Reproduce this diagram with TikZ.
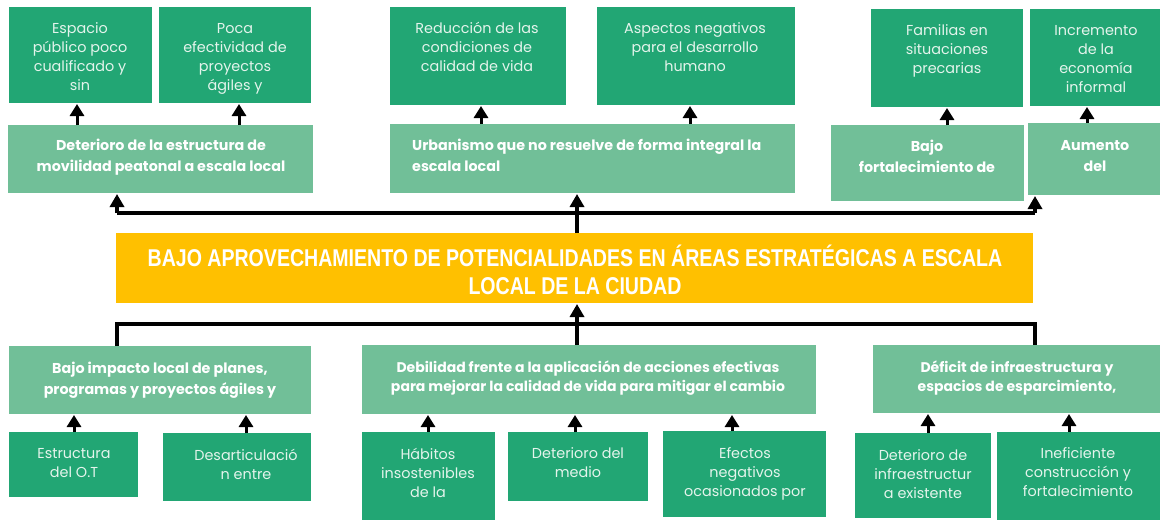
\documentclass[tikz,border=0pt]{standalone}
\usepackage{fontspec}
\setmainfont{Poppins}
\newfontfamily\titlefont[FakeStretch=0.805]{Liberation Sans}
\usetikzlibrary{arrows.meta,calc}
\definecolor{dkgreen}{RGB}{34,166,116}
\definecolor{ltgreen}{RGB}{113,191,152}
\definecolor{goldbar}{RGB}{255,192,0}
\definecolor{paletext}{RGB}{228,244,236}
\newcommand\boxnode[6]{\node[#2,anchor=north west,inner sep=0pt,outer sep=0pt,minimum width={(#5)-(#3)},minimum height={(#6)-(#4)}] (#1) at (#3,#4) {};}
\tikzset{
  leafbox/.style={fill=dkgreen},
  midbox/.style={fill=ltgreen},
  rootbox/.style={fill=goldbar},
  leaftext/.style={text=paletext,align=center,inner sep=0pt,anchor=base,font=\fontsize{14.4}{19}\selectfont},
  midtext/.style={text=white,align=center,inner sep=0pt,anchor=base,font=\fontsize{14.3}{21}\selectfont\bfseries},
  midtextb/.style={text=white,align=center,inner sep=0pt,anchor=base,font=\fontsize{14}{19}\selectfont\bfseries},
  roottext/.style={text=white,align=center,inner sep=0pt,anchor=base,font=\fontsize{24.3}{28}\selectfont\titlefont\bfseries},
  stub/.style={line width=3pt,-{Triangle[width=14pt,length=12pt]},shorten >=1pt},
  mainline/.style={line width=3.5pt},
  mainarrow/.style={line width=3.5pt,-{Triangle[width=14pt,length=13pt]},shorten >=1pt},
}
\begin{document}
\begin{tikzpicture}[x=1pt,y=-1pt]
\useasboundingbox[fill=white] (0,0) rectangle (1160,520);
% top leaves
\boxnode{L1}{leafbox}{9}{7}{152}{103}
\boxnode{L2}{leafbox}{159}{7}{311}{103}
\boxnode{L3}{leafbox}{390}{7}{566}{105}
\boxnode{L4}{leafbox}{597}{7}{795}{105}
\boxnode{L5}{leafbox}{871}{9}{1023}{107}
\boxnode{L6}{leafbox}{1030}{9}{1160}{106}
% top mid
\boxnode{M1}{midbox}{8}{125}{313}{193}
\boxnode{M2}{midbox}{390}{124}{795}{193}
\boxnode{M3}{midbox}{831}{125}{1024}{201}
\boxnode{M4}{midbox}{1028}{123}{1160}{195}
% root
\boxnode{Y}{rootbox}{116}{233}{1033}{303}
% bottom mid
\boxnode{B1}{midbox}{9}{346}{311}{414}
\boxnode{B2}{midbox}{362}{345}{816}{414}
\boxnode{B3}{midbox}{873}{345}{1160}{413}
% bottom leaves
\boxnode{C1}{leafbox}{9}{432}{138}{497}
\boxnode{C2}{leafbox}{163}{433}{311}{501}
\boxnode{C3}{leafbox}{362}{432}{495}{520}
\boxnode{C4}{leafbox}{508}{432}{648}{501}
\boxnode{C5}{leafbox}{663}{431}{826}{517}
\boxnode{C6}{leafbox}{855}{433}{991}{518}
\boxnode{C7}{leafbox}{997}{432}{1160}{520}
% texts (anchor = baseline of the last line)
\node[leaftext] (L1t) at (80,90) {Espacio\\público poco\\cualificado y\\sin};
\node[leaftext] (L2t) at (235,90) {Poca\\efectividad de\\proyectos\\ágiles y};
\node[leaftext] (L3t) at (477,71) {Reducción de las\\condiciones de\\calidad de vida};
\node[leaftext] (L4t) at (695,71) {Aspectos negativos\\para el desarrollo\\humano};
\node[leaftext] (L5t) at (947,73) {Familias en\\situaciones\\precarias};
\node[leaftext] (L6t) at (1096,92) {Incremento\\de la\\economía\\informal};
\node[midtext] (M1t) at (161,171) {Deterioro de la estructura de\\movilidad peatonal a escala local};
\node[midtext,align=left,anchor=base west] (M2t) at (412,171) {Urbanismo que no resuelve de forma integral la\\escala local};
\node[midtext] (M3t) at (927,172) {Bajo\\fortalecimiento de};
\node[midtext] (M4t) at (1095,171) {Aumento\\del};
\node[roottext] (Yt) at (575,294) {BAJO APROVECHAMIENTO DE POTENCIALIDADES EN ÁREAS ESTRATÉGICAS A ESCALA\\LOCAL DE LA CIUDAD};
\node[midtext] (B1t) at (160,394) {Bajo impacto local de planes,\\programas y proyectos ágiles y};
\node[midtextb] (B2t) at (588,391) {Debilidad frente a la aplicación de acciones efectivas\\para mejorar la calidad de vida para mitigar el cambio};
\node[midtextb] (B3t) at (1017,391) {Déficit de infraestructura y\\espacios de esparcimiento,};
\node[leaftext] (C1t) at (74,477) {Estructura\\del O.T};
\node[leaftext] (C2t) at (246,479) {Desarticulació\\n entre};
\node[leaftext] (C3t) at (428,497) {Hábitos\\insostenibles\\de la};
\node[leaftext] (C4t) at (578,477) {Deterioro del\\medio};
\node[leaftext] (C5t) at (745,496) {Efectos\\negativos\\ocasionados por};
\node[leaftext] (C6t) at (923,498) {Deterioro de\\infraestructur\\a existente};
\node[leaftext] (C7t) at (1078,496) {Ineficiente\\construcción y\\fortalecimiento};
% stubs top
\draw[stub] (M1.north -| 77,0) -- (L1.south -| 77,0);
\draw[stub] (M1.north -| 239,0) -- (L2.south -| 239,0);
\draw[stub] (M2.north -| 481,0) -- (L3.south -| 481,0);
\draw[stub] (M2.north -| 690,0) -- (L4.south -| 690,0);
\draw[stub] (M3.north -| 947,0) -- (L5.south -| 947,0);
\draw[stub] (M4.north -| 1087,0) -- (L6.south -| 1087,0);
% stubs bottom
\draw[stub] (C1.north -| 74,0) -- (B1.south -| 74,0);
\draw[stub] (C2.north -| 246,0) -- (B1.south -| 246,0);
\draw[stub] (C3.north -| 428,0) -- (B2.south -| 428,0);
\draw[stub] (C4.north -| 575,0) -- (B2.south -| 575,0);
\draw[stub] (C5.north -| 732,0) -- (B2.south -| 732,0);
\draw[stub] (C6.north -| 928,0) -- (B3.south -| 928,0);
\draw[stub] (C7.north -| 1069,0) -- (B3.south -| 1069,0);
% top trunk
\coordinate (jtl) at (117,213);
\coordinate (jt) at (577,213);
\coordinate (jtr) at (1035,213);
\draw[mainline] (jtl) -- (jtr);
\draw[mainline] (jt |- Y.north) -- (jt);
\draw[mainarrow] (jtl) -- (jtl |- M1.south);
\draw[mainarrow] (jt) -- (jt |- M2.south);
\draw[mainarrow] (jtr) -- (jtr |- M4.south);
% bottom trunk
\coordinate (jbl) at (117,324);
\coordinate (jb) at (577,324);
\coordinate (jbr) at (1035,324);
\draw[mainline] (jbl |- B1.north) -- (jbl) -- (jbr) -- (jbr |- B3.north);
\draw[mainline] (jb |- B2.north) -- (jb);
\draw[mainarrow] (jb) -- (jb |- Y.south);
\end{tikzpicture}
\end{document}
